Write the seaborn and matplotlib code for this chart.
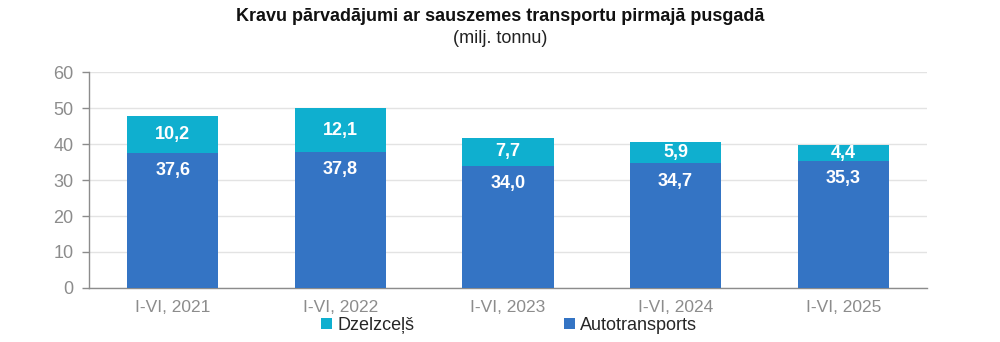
import matplotlib
matplotlib.use("Agg")
import matplotlib.pyplot as plt
import seaborn as sns
import pandas as pd
import numpy as np
from matplotlib.patches import Patch

periods = ["I-VI, 2021", "I-VI, 2022", "I-VI, 2023", "I-VI, 2024", "I-VI, 2025"]
auto = [37.6, 37.8, 34.0, 34.7, 35.3]
rail = [10.2, 12.1, 7.7, 5.9, 4.4]
yticks = [0, 10, 20, 30, 40, 50, 60]

c_auto = "#3474C4"
c_rail = "#0FAFCF"

sns.set_theme(style="white")
plt.rcParams["font.family"] = ["Liberation Sans", "DejaVu Sans"]

df = pd.DataFrame({"period": periods, "auto": auto, "rail": rail})
df["total"] = df["auto"] + df["rail"]

fig = plt.figure(figsize=(10, 3.42), dpi=100)
ax = fig.add_axes([0.089, 0.158, 0.838, 0.631])

# stacked bars: total in rail colour, road freight drawn over it
sns.barplot(data=df, x="period", y="total", color=c_rail, width=0.545,
            saturation=1, linewidth=0, ax=ax, zorder=3)
sns.barplot(data=df, x="period", y="auto", color=c_auto, width=0.545,
            saturation=1, linewidth=0, ax=ax, zorder=3)

for i, (a, r) in enumerate(zip(auto, rail)):
    ax.text(i, a + r / 2, f"{r:.1f}".replace(".", ","), ha="center", va="center",
            color="white", fontsize=13, fontweight="bold", zorder=5)
    ax.text(i, a - 5.0, f"{a:.1f}".replace(".", ","), ha="center", va="center",
            color="white", fontsize=13, fontweight="bold", zorder=5)

ax.set_ylim(0, 60)
ax.set_xlim(-0.5, len(periods) - 0.5)
ax.set_yticks(yticks)
ax.set_yticklabels([str(v) for v in yticks], color="#8c8c8c", fontsize=13)
ax.yaxis.grid(True, color="#e3e3e3", linewidth=1, zorder=0)
ax.set_axisbelow(True)
ax.set_xlabel("")
ax.set_ylabel("")

ax.set_xticks(range(len(periods)))
ax.set_xticklabels(periods, color="#8c8c8c", fontsize=12.5)
ax.tick_params(axis="x", which="major", length=0, pad=9)
ax.set_xticks(np.arange(-0.5, len(periods), 1.0), minor=True)
ax.tick_params(axis="x", which="minor", length=5, color="#8c8c8c", width=1, direction="out")
ax.tick_params(axis="y", length=5, color="#8c8c8c", width=1, direction="out", pad=6, left=True)

for s in ["top", "right"]:
    ax.spines[s].set_visible(False)
for s in ["left", "bottom"]:
    ax.spines[s].set_color("#8c8c8c")
    ax.spines[s].set_linewidth(1)

fig.text(0.5, 0.953, "Kravu pārvadājumi ar sauszemes transportu pirmajā pusgadā",
         ha="center", va="center", fontsize=13, fontweight="bold", color="#111111")
fig.text(0.5, 0.888, "(milj. tonnu)", ha="center", va="center", fontsize=13, color="#222222")

handles = [Patch(facecolor=c_rail, edgecolor="none"), Patch(facecolor=c_auto, edgecolor="none")]
fig.legend(handles, ["Dzelzceļš", "Autotransports"], loc="center", bbox_to_anchor=(0.509, 0.048),
           ncol=2, frameon=False, fontsize=13, handlelength=0.6, handleheight=0.6,
           handletextpad=0.3, columnspacing=8.3)

fig.savefig("out.png", dpi=100)
